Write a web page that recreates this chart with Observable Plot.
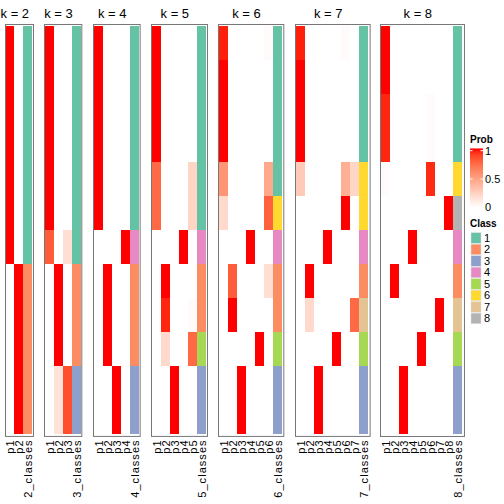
<!DOCTYPE html>
<html><head><meta charset="utf-8">
<script src="https://cdn.jsdelivr.net/npm/d3@7"></script>
<script src="https://cdn.jsdelivr.net/npm/@observablehq/plot@0.6"></script>
<style>
body{margin:0;background:#fff;}
#chart{position:relative;width:504px;height:504px;overflow:hidden;font-family:"Liberation Sans",Arial,sans-serif;background:#fff;}
#chart svg{position:absolute;top:0;overflow:visible;}
</style></head><body><div id="chart"></div>
<script>
// ---- data ----
const ks = [2, 3, 4, 5, 6, 7, 8];
const rows = d3.range(12);

const prob2 = [
  [1,0],[1,0],[1,0],[1,0],[1,0],[1,0],[1,0],
  [0,1],[0,1],[0,1],[0,1],[0,1]];
const class2 = [1,1,1,1,1,1,1,2,2,2,2,2];

const prob3 = [
  [1,0,0],[1,0,0],[1,0,0],[1,0,0],[1,0,0],[1,0,0],
  [0.8,0,0.17],
  [0,1,0],[0,1,0],[0,1,0],
  [0,0.15,0.85],[0,0.15,0.85]];
const class3 = [1,1,1,1,1,1,1,2,2,2,3,3];

const prob4 = [
  [1,0,0,0],[1,0,0,0],[1,0,0,0],[1,0,0,0],[1,0,0,0],[1,0,0,0],
  [0,0,0,1],
  [0,1,0,0],[0,1,0,0],[0,1,0,0],
  [0,0,1,0],[0,0,1,0]];
const class4 = [1,1,1,1,1,1,4,2,2,2,3,3];

const prob5 = [
  [1,0,0,0,0],[1,0,0,0,0],[1,0,0,0,0],[1,0,0,0,0],
  [0.75,0,0,0,0.22],[0.75,0,0,0,0.22],
  [0,0,0,1,0],
  [0,1,0,0,0],
  [0,0.96,0,0,0.02],
  [0,0.2,0,0,0.75],
  [0,0,1,0,0],[0,0,1,0,0]];
const class5 = [1,1,1,1,1,1,4,2,2,5,3,3];

const prob6 = [
  [0.97,0,0,0,0,0.02],
  [1,0,0,0,0,0],[1,0,0,0,0,0],[1,0,0,0,0,0],
  [0.55,0,0,0,0,0.45],
  [0.2,0,0,0,0,0.78],
  [0,0,0,1,0,0],
  [0,0.8,0,0,0,0.17],
  [0,1,0,0,0,0],
  [0,0,0,0,1,0],
  [0,0,1,0,0,0],[0,0,1,0,0,0]];
const class6 = [1,1,1,1,1,6,4,2,2,5,3,3];

const prob7 = [
  [0.97,0,0,0,0,0.02,0],
  [1,0,0,0,0,0,0],[1,0,0,0,0,0,0],[1,0,0,0,0,0,0],
  [0.28,0,0,0,0,0.42,0.22],
  [0,0,0,0,0,1,0],
  [0,0,0,1,0,0,0],
  [0,1,0,0,0,0,0],
  [0,0.2,0,0,0,0,0.75],
  [0,0,0,0,1,0,0],
  [0,0,1,0,0,0,0],[0,0,1,0,0,0,0]];
const class7 = [1,1,1,1,6,6,4,2,7,5,3,3];

const prob8 = [
  [1,0,0,0,0,0,0,0],[1,0,0,0,0,0,0,0],
  [0.96,0,0,0,0,0.02,0,0],[0.96,0,0,0,0,0.02,0,0],
  [0.02,0,0,0,0,0.95,0,0],
  [0,0,0,0,0,0,0,1],
  [0,0,0,1,0,0,0,0],
  [0,1,0,0,0,0,0,0],
  [0,0,0,0,0,0,1,0],
  [0,0,0,0,1,0,0,0],
  [0,0,1,0,0,0,0,0],[0,0,1,0,0,0,0,0]];
const class8 = [1,1,1,1,6,8,4,2,7,5,3,3];

const classLabels = ["1","2","3","4","5","6","7","8"];
const classColors = ["#66C2A5","#FC8D62","#8DA0CB","#E78AC3","#A6D854","#FFD92F","#E5C494","#B3B3B3"];
const probTicks = [0, 0.5, 1];
const probTickLabels = ["0", "0.5", "1"];

const probs = {2: prob2, 3: prob3, 4: prob4, 5: prob5, 6: prob6, 7: prob7, 8: prob8};
const classes = {2: class2, 3: class3, 4: class4, 5: class5, 6: class6, 7: class7, 8: class8};

// ---- layout ----
const colW = 9.33, gap = 11.2, left0 = 5.3;
const H = 504, panelTop = 24, panelBottom = 436, m = 3;
const chart = document.getElementById("chart");
const probInterp = d3.interpolateLab("white", "red");

let left = left0;
for (const k of ks) {
  const n = k + 1;
  const cols = d3.range(1, k + 1).map(j => `p${j}`).concat([`${k}_classes`]);
  const probCells = probs[k].flatMap((r, i) => r.map((v, j) => ({row: i, col: `p${j + 1}`, v})));
  const classCells = classes[k].map((c, i) => ({row: i, col: `${k}_classes`, fill: classColors[c - 1]}));
  const plot = Plot.plot({
    width: n * colW + 2 * m,
    height: H,
    marginLeft: m, marginRight: m, marginTop: panelTop, marginBottom: H - panelBottom,
    style: {fontFamily: '"Liberation Sans", Arial, sans-serif', fontSize: "11px", background: "transparent", overflow: "visible"},
    x: {type: "band", domain: cols, padding: 0, label: null, tickRotate: -90, tickSize: 0, tickPadding: 3},
    y: {type: "band", domain: rows, padding: 0, axis: null},
    color: {type: "linear", domain: [0, 1], range: ["white", "red"], interpolate: d3.interpolateLab},
    marks: [
      Plot.cell(probCells, {x: "col", y: "row", fill: "v", inset: 0, shapeRendering: "crispEdges"}),
      Plot.cell(classCells, {x: "col", y: "row", fill: "fill", inset: 0, shapeRendering: "crispEdges"}),
      Plot.frame({stroke: "#777", strokeWidth: 1}),
      Plot.text([`k = ${k}`], {frameAnchor: "top", dx: -colW / 2, dy: -6.5, lineAnchor: "bottom", fontSize: 13, fill: "black"})
    ]
  });
  plot.style.left = (left - m) + "px";
  plot.querySelectorAll('[aria-label="x-axis tick label"] text').forEach(t => t.setAttribute("letter-spacing", "1.05"));
  chart.appendChild(plot);
  left += n * colW + gap;
}

// ---- legend ----
const leg = d3.select(chart).append("svg")
  .attr("width", 504).attr("height", 504).style("left", "0px")
  .style("font-family", '"Liberation Sans", Arial, sans-serif');
const gx = 470, gw = 13;
const ly = d3.scaleLinear().domain([0, 1]).range([207.3, 150.7]);
const grad = leg.append("defs").append("linearGradient").attr("id", "pg")
  .attr("x1", 0).attr("x2", 0).attr("y1", 1).attr("y2", 0);
d3.range(0, 1.0001, 0.1).forEach(t => grad.append("stop").attr("offset", t).attr("stop-color", probInterp(t)));
leg.append("text").attr("x", gx).attr("y", 143).attr("font-weight", "bold").attr("font-size", 10).text("Prob");
leg.append("rect").attr("x", gx).attr("y", ly(1.04)).attr("width", gw).attr("height", ly(0) - ly(1.04)).attr("fill", "url(#pg)");
probTicks.forEach((v, i) => {
  leg.append("line").attr("x1", gx).attr("x2", gx + 2.5).attr("y1", ly(v)).attr("y2", ly(v)).attr("stroke", "white");
  leg.append("line").attr("x1", gx + gw - 2.5).attr("x2", gx + gw).attr("y1", ly(v)).attr("y2", ly(v)).attr("stroke", "white");
  leg.append("text").attr("x", gx + gw + 2).attr("y", ly(v)).attr("dy", "0.35em").attr("font-size", 11).text(probTickLabels[i]);
});
leg.append("text").attr("x", gx).attr("y", 227).attr("font-weight", "bold").attr("font-size", 10).text("Class");
const cy = d3.scaleBand().domain(classLabels).range([232.7, 323.7]).paddingInner(0.08);
classLabels.forEach((c, i) => {
  leg.append("rect").attr("x", gx + 1).attr("y", cy(c)).attr("width", 10).attr("height", cy.bandwidth())
    .attr("fill", classColors[i]).attr("stroke", "#ddd").attr("stroke-width", 0.5);
  leg.append("text").attr("x", gx + gw + 1).attr("y", cy(c) + cy.bandwidth() / 2).attr("dy", "0.35em").attr("font-size", 11).text(c);
});
</script></body></html>
